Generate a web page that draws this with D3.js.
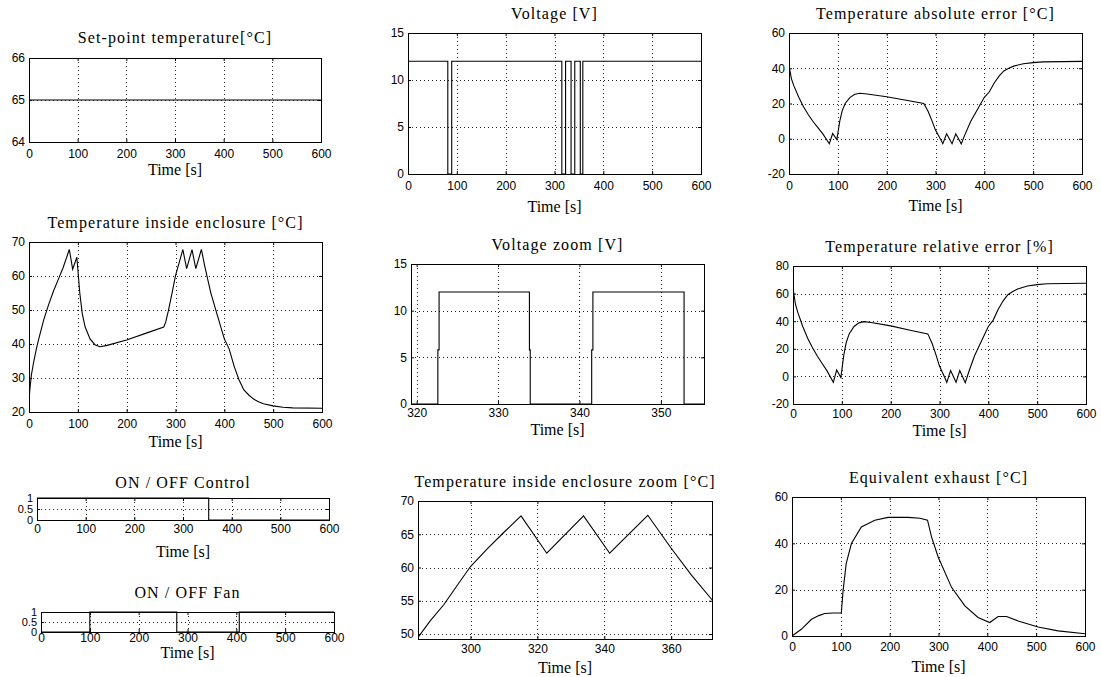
<!DOCTYPE html>
<html>
<head>
<meta charset="utf-8">
<script src="https://cdn.jsdelivr.net/npm/d3@7"></script>
<style>
body{margin:0;background:#fff;}
svg{display:block;}
.title,.xlab{font-family:"Liberation Serif","Times New Roman",serif;font-size:16px;fill:#000;}
.title{letter-spacing:1.1px;}
.tick text{font-family:"Liberation Sans",Arial,sans-serif;font-size:12px;fill:#000;}
.grid line{stroke:#222;stroke-width:1;stroke-dasharray:1,3;}
.box{fill:none;stroke:#000;stroke-width:1;}
.curve{fill:none;stroke:#000;stroke-width:1.1;}
</style>
</head>
<body>
<svg id="fig" width="1101" height="677"></svg>
<script>
// ---- data ----
var setpointT = [0, 600];
var setpointV = [65, 65];

// voltage: switching times and the level held after each one
var voltT = [0, 81.5, 89.5, 315, 322.7, 333.9, 341.5, 352.8, 358, 600];
var voltV = [12, 0, 12, 0, 12, 0, 12, 0, 12, 12];

var voltZoomT = [319.3, 322.6, 322.6, 322.75, 322.75, 333.85, 333.85, 333.95, 333.95, 341.5, 341.5, 341.65, 341.65, 352.85, 352.85, 355.3];
var voltZoomV = [0, 0, 5.8, 5.8, 12, 12, 5.8, 5.8, 0, 0, 5.8, 5.8, 12, 12, 0, 0];

var tempT = [0, 2, 5, 10, 15, 20, 30, 40, 50, 60, 70, 82.6, 89.4, 98, 104, 109, 115, 125, 135, 145, 160, 200, 240, 276, 280, 285, 292, 300, 310, 315.1, 322.8, 333.8, 341.6, 353, 360, 372, 385, 400, 410, 420, 430, 440, 450, 460, 470, 480, 500, 520, 540, 600];
var tempV = [23.5, 27, 31, 35, 38.5, 41.5, 47, 51.5, 55.5, 59, 62.5, 67.8, 62, 65.5, 55, 49, 45, 41.5, 39.8, 39.2, 39.6, 41.2, 43.2, 45, 46.5, 49.5, 54.3, 60.1, 65.2, 67.75, 62.15, 67.75, 62.15, 67.85, 62.8, 55.2, 48.8, 41.5, 38.5, 33.5, 29.5, 26.5, 25, 23.8, 23, 22.4, 21.8, 21.4, 21.2, 21.1];

var absErrT = [0, 5, 10, 20, 30, 40, 50, 60, 70, 82.6, 89.4, 98, 104, 109, 115, 125, 135, 145, 160, 200, 240, 276, 285, 292, 300, 310, 315, 322.7, 333.9, 341.5, 352.8, 360, 372, 385, 400, 410, 420, 430, 440, 450, 460, 480, 500, 520, 600];
var absErrV = [41.5, 34, 30, 23.5, 18, 13.5, 9.5, 6, 2.5, -2.8, 3, -0.5, 10, 16, 20, 23.5, 25.2, 25.8, 25.4, 23.8, 21.8, 20, 15.5, 10.7, 4.9, -0.2, -2.8, 2.8, -2.8, 2.8, -2.9, 2.2, 9.8, 16.2, 23.5, 26.5, 31.5, 35.5, 38.5, 40, 41.2, 42.6, 43.2, 43.6, 43.9];

var relErrT = [0, 5, 10, 20, 30, 40, 50, 60, 70, 82.6, 89.4, 98, 104, 109, 115, 125, 135, 145, 160, 200, 240, 276, 285, 292, 300, 310, 315, 322.7, 333.9, 341.5, 352.8, 360, 372, 385, 400, 410, 420, 430, 440, 450, 460, 480, 500, 520, 600];
var relErrV = [63.8, 52.3, 46.2, 36.2, 27.7, 20.8, 14.6, 9.2, 3.8, -4.3, 4.6, -0.8, 15.4, 24.6, 30.8, 36.2, 38.8, 39.7, 39.1, 36.6, 33.5, 30.8, 23.8, 16.5, 7.5, -0.3, -4.3, 4.3, -4.3, 4.3, -4.5, 3.4, 15.1, 24.9, 36.2, 40.8, 48.5, 54.6, 59.2, 61.5, 63.4, 65.5, 66.5, 67.1, 67.5];

var controlT = [0, 352.8, 600];
var controlV = [1, 0, 0];

var fanT = [0, 100, 278, 406, 600];
var fanV = [0, 1, 0, 1, 1];

var tempZoomT = [284.3, 288, 292, 296, 300, 305, 310, 315.1, 322.8, 333.8, 341.6, 353, 360, 366, 372.2];
var tempZoomV = [49.5, 52, 54.4, 57.3, 60.15, 62.8, 65.3, 67.75, 62.15, 67.75, 62.15, 67.85, 62.9, 58.9, 55.15];

var exhaustT = [0, 19, 40, 55, 67, 85, 101, 104.6, 111, 121.7, 142, 169.5, 196.8, 237.8, 262, 277.5, 285.7, 299.3, 326.7, 354, 381, 405, 422, 439.5, 463, 504, 545, 600];
var exhaustV = [0, 2.9, 7.2, 8.8, 9.7, 9.9, 9.9, 19.6, 31.2, 39.9, 47.1, 50, 51.2, 51.2, 50.8, 50, 42.8, 34.1, 21, 13, 8, 5.8, 8.4, 8.4, 6.5, 3.9, 2.2, 1.0];

var tick600 = [0, 100, 200, 300, 400, 500, 600];

// ---- panel layout ----
var panels = [
  {title: "Set-point temperature[\u00B0C]", x0: 29, x1: 321, y0: 58, y1: 142, xd: [0, 600], yd: [64, 66], xt: tick600, yt: [64, 65, 66], tg: 15, xl: 33, tp: 7, t: setpointT, v: setpointV, curve: d3.curveLinear},
  {title: "Voltage [V]", x0: 408, x1: 701, y0: 33, y1: 174, xd: [0, 600], yd: [0, 15], xt: tick600, yt: [0, 5, 10, 15], tg: 14, xl: 38, tp: 7, t: voltT, v: voltV, curve: d3.curveStepAfter},
  {title: "Temperature absolute error [\u00B0C]", x0: 789, x1: 1082, y0: 33, y1: 174, xd: [0, 600], yd: [-20, 60], xt: tick600, yt: [-20, 0, 20, 40, 60], tg: 14, xl: 37, tp: 7, t: absErrT, v: absErrV, curve: d3.curveLinear},
  {title: "Temperature inside enclosure [\u00B0C]", x0: 29, x1: 322, y0: 242, y1: 412, xd: [0, 600], yd: [20, 70], xt: tick600, yt: [20, 30, 40, 50, 60, 70], tg: 14, xl: 35, tp: 7, t: tempT, v: tempV, curve: d3.curveLinear},
  {title: "Voltage zoom  [V]", x0: 411, x1: 704, y0: 264, y1: 404, xd: [319.3, 355.3], yd: [0, 15], xt: [320, 330, 340, 350], yt: [0, 5, 10, 15], tg: 14, xl: 31, tp: 4, t: voltZoomT, v: voltZoomV, curve: d3.curveLinear},
  {title: "Temperature relative error [%]", x0: 793, x1: 1086, y0: 266, y1: 404, xd: [0, 600], yd: [-20, 80], xt: tick600, yt: [-20, 0, 20, 40, 60, 80], tg: 14, xl: 32, tp: 5, t: relErrT, v: relErrV, curve: d3.curveLinear},
  {title: "ON / OFF Control", x0: 37, x1: 329, y0: 498, y1: 520, xd: [0, 600], yd: [0, 1], xt: tick600, yt: [0, 0.5, 1], tg: 10, xl: 37, tp: 4, t: controlT, v: controlV, curve: d3.curveStepAfter},
  {title: "ON / OFF Fan", x0: 41, x1: 334, y0: 612, y1: 632, xd: [0, 600], yd: [0, 1], xt: tick600, yt: [0, 0.5, 1], tg: 14, xl: 26, tp: 1, t: fanT, v: fanV, curve: d3.curveStepAfter},
  {title: "Temperature inside enclosure zoom [\u00B0C]", x0: 418, x1: 712, y0: 501, y1: 639, xd: [284.3, 372.2], yd: [49.25, 70], xt: [300, 320, 340, 360], yt: [50, 55, 60, 65, 70], tg: 14, xl: 34, tp: 5, t: tempZoomT, v: tempZoomV, curve: d3.curveLinear},
  {title: "Equivalent exhaust [\u00B0C]", x0: 792, x1: 1085, y0: 497, y1: 636, xd: [0, 600], yd: [0, 60], xt: tick600, yt: [0, 20, 40, 60], tg: 14, xl: 36, tp: 6, t: exhaustT, v: exhaustV, curve: d3.curveLinear}
];

var svg = d3.select("#fig");
var fmt = function(d){ return String(d); };

panels.forEach(function(p, i){
  var x = d3.scaleLinear().domain(p.xd).range([p.x0, p.x1]);
  var y = d3.scaleLinear().domain(p.yd).range([p.y1, p.y0]);
  var g = svg.append("g");
  var small = (p.y1 - p.y0) < 30;

  // dotted grid, skipping the box edges
  var grid = g.append("g").attr("class", "grid");
  grid.selectAll(".gx").data(p.xt.filter(function(d){ return d > p.xd[0] && d < p.xd[1]; }))
    .enter().append("line")
    .attr("x1", function(d){ return Math.round(x(d)) + 0.5; })
    .attr("x2", function(d){ return Math.round(x(d)) + 0.5; })
    .attr("y1", p.y0).attr("y2", p.y1);
  grid.selectAll(".gy").data(p.yt.filter(function(d){ return d > p.yd[0] && d < p.yd[1]; }))
    .enter().append("line")
    .attr("y1", function(d){ return Math.round(y(d)) + 0.5; })
    .attr("y2", function(d){ return Math.round(y(d)) + 0.5; })
    .attr("x1", p.x0).attr("x2", p.x1);

  // axes with inward ticks
  g.append("g").attr("transform", "translate(0," + p.y1 + ")")
    .call(d3.axisBottom(x).tickValues(p.xt).tickSize(-3).tickPadding(p.tp).tickFormat(fmt));
  var ay = g.append("g").attr("transform", "translate(" + p.x0 + ",0)")
    .call(d3.axisLeft(y).tickValues(p.yt).tickSize(-3).tickPadding(4).tickFormat(fmt));
  g.append("g").attr("transform", "translate(0," + p.y0 + ")")
    .call(d3.axisTop(x).tickValues(p.xt).tickSize(-3).tickFormat(""));
  g.append("g").attr("transform", "translate(" + p.x1 + ",0)")
    .call(d3.axisRight(y).tickValues(p.yt).tickSize(-3).tickFormat(""));
  g.selectAll(".domain").remove();
  g.selectAll(".tick line").attr("stroke", "#000");
  g.selectAll(".tick text").attr("font-family", null).attr("font-size", null);
  if (small) ay.selectAll(".tick text").style("font-size", "11px");

  // clip + series
  var cid = "clip" + i;
  g.append("clipPath").attr("id", cid).append("rect")
    .attr("x", p.x0).attr("y", p.y0 - 1).attr("width", p.x1 - p.x0).attr("height", p.y1 - p.y0 + 2);
  var pts = p.t.map(function(t, k){ return [t, p.v[k]]; });
  var line = d3.line().x(function(d){ return x(d[0]); }).y(function(d){ return y(d[1]); }).curve(p.curve);
  g.append("path").attr("class", "curve").attr("clip-path", "url(#" + cid + ")").attr("d", line(pts));

  g.append("rect").attr("class", "box")
    .attr("x", p.x0 + 0.5).attr("y", p.y0 + 0.5)
    .attr("width", p.x1 - p.x0).attr("height", p.y1 - p.y0);

  g.append("text").attr("class", "title")
    .attr("x", (p.x0 + p.x1) / 2).attr("y", p.y0 - p.tg)
    .attr("text-anchor", "middle").text(p.title);
  g.append("text").attr("class", "xlab")
    .attr("x", (p.x0 + p.x1) / 2).attr("y", p.y1 + p.xl)
    .attr("text-anchor", "middle").text("Time [s]");
});
</script>
</body>
</html>
